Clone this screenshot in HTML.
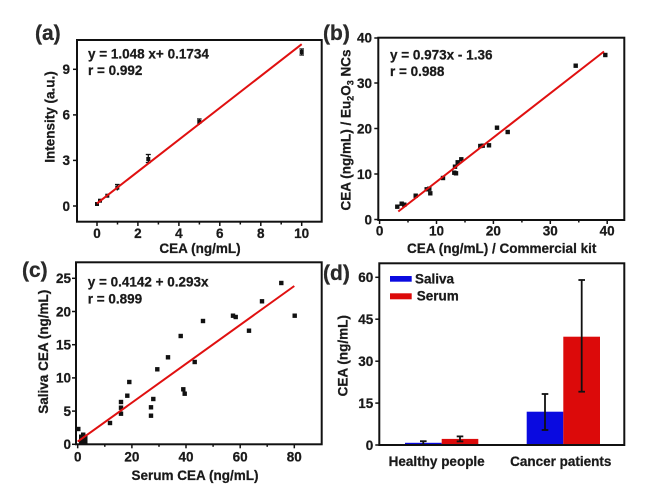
<!DOCTYPE html>
<html>
<head>
<meta charset="utf-8">
<style>
html,body{margin:0;padding:0;background:#fff;}
svg{display:block;}
svg text{font-weight:bold;font-family:"Liberation Sans",Arial,sans-serif;stroke:#1a1a1a;stroke-width:0.25px;}
</style>
</head>
<body>
<svg width="657" height="488" viewBox="0 0 657 488" xmlns="http://www.w3.org/2000/svg" font-family="Liberation Sans, Arial, sans-serif" font-weight="bold" font-size="13.5" fill="#1a1a1a">
<rect x="0" y="0" width="657" height="488" fill="#fff"/>

<!-- ================= Panel (a) ================= -->
<text x="35" y="40" font-size="21" fill="#2a2a2a">(a)</text>
<rect x="77" y="40" width="244.7" height="181.7" fill="none" stroke="#111" stroke-width="2"/>
<g stroke="#111" stroke-width="1.5">
  <line x1="97" y1="222" x2="97" y2="226"/>
  <line x1="137.9" y1="222" x2="137.9" y2="226"/>
  <line x1="178.9" y1="222" x2="178.9" y2="226"/>
  <line x1="219.8" y1="222" x2="219.8" y2="226"/>
  <line x1="260.8" y1="222" x2="260.8" y2="226"/>
  <line x1="301.7" y1="222" x2="301.7" y2="226"/>
  <line x1="117.5" y1="222" x2="117.5" y2="224.5"/>
  <line x1="158.4" y1="222" x2="158.4" y2="224.5"/>
  <line x1="199.4" y1="222" x2="199.4" y2="224.5"/>
  <line x1="240.3" y1="222" x2="240.3" y2="224.5"/>
  <line x1="281.2" y1="222" x2="281.2" y2="224.5"/>
  <line x1="77" y1="206" x2="73" y2="206"/>
  <line x1="77" y1="160.4" x2="73" y2="160.4"/>
  <line x1="77" y1="114.9" x2="73" y2="114.9"/>
  <line x1="77" y1="69.3" x2="73" y2="69.3"/>
</g>
<g text-anchor="middle">
  <text x="97" y="238">0</text>
  <text x="137.9" y="238">2</text>
  <text x="178.9" y="238">4</text>
  <text x="219.8" y="238">6</text>
  <text x="260.8" y="238">8</text>
  <text x="301.7" y="238">10</text>
</g>
<g text-anchor="end">
  <text x="70" y="210.8">0</text>
  <text x="70" y="165.2">3</text>
  <text x="70" y="119.7">6</text>
  <text x="70" y="74.1">9</text>
</g>
<text x="200" y="253" text-anchor="middle">CEA (ng/mL)</text>
<text transform="translate(54.5,117) rotate(-90)" text-anchor="middle">Intensity (a.u.)</text>
<text x="88" y="58.3">y = 1.048 x+ 0.1734</text>
<text x="88" y="75">r = 0.992</text>
<!-- points a -->
<g fill="#111" stroke="#111" stroke-width="1.3">
  <rect x="95" y="202" width="4" height="4" stroke="none"/>
  <rect x="98" y="198.7" width="4" height="4" stroke="none"/>
  <rect x="105.3" y="193.7" width="4" height="4" stroke="none"/>
  <rect x="115.3" y="185.7" width="4" height="4" stroke="none"/>
  <line x1="117.3" y1="184.5" x2="117.3" y2="190.5"/>
  <line x1="115" y1="184.5" x2="119.6" y2="184.5"/>
  <rect x="146.3" y="157" width="4" height="4" stroke="none"/>
  <line x1="148.3" y1="154.5" x2="148.3" y2="162.5"/>
  <line x1="145.8" y1="154.5" x2="150.8" y2="154.5"/>
  <line x1="145.8" y1="162.5" x2="150.8" y2="162.5"/>
  <rect x="197.3" y="120" width="4" height="4" stroke="none"/>
  <line x1="199.3" y1="119" x2="199.3" y2="125"/>
  <line x1="197" y1="119" x2="201.6" y2="119"/>
  <rect x="299.7" y="50" width="4" height="4" stroke="none"/>
  <line x1="301.7" y1="49" x2="301.7" y2="55"/>
  <line x1="299.4" y1="49" x2="304" y2="49"/>
  <line x1="299.4" y1="55" x2="304" y2="55"/>
</g>
<line x1="97" y1="203.4" x2="301.7" y2="44.2" stroke="#e01010" stroke-width="2"/>

<!-- ================= Panel (b) ================= -->
<text x="323" y="40" font-size="21" fill="#2a2a2a">(b)</text>
<rect x="378.3" y="37.7" width="246" height="182.3" fill="none" stroke="#111" stroke-width="2"/>
<g stroke="#111" stroke-width="1.5">
  <line x1="379.6" y1="220" x2="379.6" y2="224"/>
  <line x1="436.5" y1="220" x2="436.5" y2="224"/>
  <line x1="493.4" y1="220" x2="493.4" y2="224"/>
  <line x1="550.3" y1="220" x2="550.3" y2="224"/>
  <line x1="607.2" y1="220" x2="607.2" y2="224"/>
  <line x1="408" y1="220" x2="408" y2="222.5"/>
  <line x1="465" y1="220" x2="465" y2="222.5"/>
  <line x1="521.9" y1="220" x2="521.9" y2="222.5"/>
  <line x1="578.8" y1="220" x2="578.8" y2="222.5"/>
  <line x1="378.3" y1="219.5" x2="374.3" y2="219.5"/>
  <line x1="378.3" y1="174" x2="374.3" y2="174"/>
  <line x1="378.3" y1="128.5" x2="374.3" y2="128.5"/>
  <line x1="378.3" y1="83" x2="374.3" y2="83"/>
  <line x1="378.3" y1="38" x2="374.3" y2="38"/>
</g>
<g text-anchor="middle">
  <text x="379.6" y="235.7">0</text>
  <text x="436.5" y="235.7">10</text>
  <text x="493.4" y="235.7">20</text>
  <text x="550.3" y="235.7">30</text>
  <text x="607.2" y="235.7">40</text>
</g>
<g text-anchor="end">
  <text x="372" y="224.3">0</text>
  <text x="372" y="178.8">10</text>
  <text x="372" y="133.3">20</text>
  <text x="372" y="87.8">30</text>
  <text x="372" y="42.5">40</text>
</g>
<text x="501.7" y="253" text-anchor="middle">CEA (ng/mL) / Commercial kit</text>
<text transform="translate(350.5,130) rotate(-90)" text-anchor="middle">CEA (ng/mL) / Eu<tspan font-size="9" dy="3">2</tspan><tspan dy="-3">O</tspan><tspan font-size="9" dy="3">3</tspan><tspan dy="-3"> NCs</tspan></text>
<text x="390" y="59.3">y = 0.973x - 1.36</text>
<text x="390" y="76">r = 0.988</text>
<g fill="#111">
  <rect x="395.1" y="204.5" width="4.4" height="4.4"/>
  <rect x="399.5" y="201.5" width="4.4" height="4.4"/>
  <rect x="402.1" y="202.5" width="4.4" height="4.4"/>
  <rect x="413.5" y="193.5" width="4.4" height="4.4"/>
  <rect x="424.5" y="187.1" width="4.4" height="4.4"/>
  <rect x="427.1" y="186.5" width="4.4" height="4.4"/>
  <rect x="428.1" y="191.1" width="4.4" height="4.4"/>
  <rect x="440.8" y="175.8" width="4.4" height="4.4"/>
  <rect x="452.1" y="170.5" width="4.4" height="4.4"/>
  <rect x="453.8" y="171.1" width="4.4" height="4.4"/>
  <rect x="452.8" y="164.5" width="4.4" height="4.4"/>
  <rect x="455.5" y="160.1" width="4.4" height="4.4"/>
  <rect x="459.1" y="157.1" width="4.4" height="4.4"/>
  <rect x="478.1" y="143.8" width="4.4" height="4.4"/>
  <rect x="480.5" y="143.5" width="4.4" height="4.4"/>
  <rect x="486.8" y="143.1" width="4.4" height="4.4"/>
  <rect x="494.8" y="125.5" width="4.4" height="4.4"/>
  <rect x="505.5" y="129.8" width="4.4" height="4.4"/>
  <rect x="573.5" y="63.5" width="4.4" height="4.4"/>
  <rect x="603.1" y="52.8" width="4.4" height="4.4"/>
</g>
<line x1="398.3" y1="211.5" x2="604" y2="51.5" stroke="#e01010" stroke-width="2"/>

<!-- ================= Panel (c) ================= -->
<text x="22" y="277" font-size="21" fill="#2a2a2a">(c)</text>
<rect x="76" y="262.3" width="245.7" height="182" fill="none" stroke="#111" stroke-width="2"/>
<g stroke="#111" stroke-width="1.5">
  <line x1="77.7" y1="444.3" x2="77.7" y2="448.3"/>
  <line x1="131.9" y1="444.3" x2="131.9" y2="448.3"/>
  <line x1="186" y1="444.3" x2="186" y2="448.3"/>
  <line x1="240.2" y1="444.3" x2="240.2" y2="448.3"/>
  <line x1="294.3" y1="444.3" x2="294.3" y2="448.3"/>
  <line x1="104.8" y1="444.3" x2="104.8" y2="446.8"/>
  <line x1="159" y1="444.3" x2="159" y2="446.8"/>
  <line x1="213.1" y1="444.3" x2="213.1" y2="446.8"/>
  <line x1="267.2" y1="444.3" x2="267.2" y2="446.8"/>
  <line x1="76" y1="444.3" x2="72" y2="444.3"/>
  <line x1="76" y1="411.1" x2="72" y2="411.1"/>
  <line x1="76" y1="377.9" x2="72" y2="377.9"/>
  <line x1="76" y1="344.7" x2="72" y2="344.7"/>
  <line x1="76" y1="311.5" x2="72" y2="311.5"/>
  <line x1="76" y1="278.3" x2="72" y2="278.3"/>
</g>
<g text-anchor="middle">
  <text x="77.7" y="461.5">0</text>
  <text x="131.9" y="461.5">20</text>
  <text x="186" y="461.5">40</text>
  <text x="240.2" y="461.5">60</text>
  <text x="294.3" y="461.5">80</text>
</g>
<g text-anchor="end">
  <text x="71" y="449.1">0</text>
  <text x="71" y="415.9">5</text>
  <text x="71" y="382.7">10</text>
  <text x="71" y="349.5">15</text>
  <text x="71" y="316.3">20</text>
  <text x="71" y="283.1">25</text>
</g>
<text x="195" y="480" text-anchor="middle">Serum CEA (ng/mL)</text>
<text transform="translate(48,351.7) rotate(-90)" text-anchor="middle">Saliva CEA (ng/mL)</text>
<text x="87.7" y="286.7">y = 0.4142 + 0.293x</text>
<text x="87.7" y="303.3">r = 0.899</text>
<g fill="#111">
  <rect x="79" y="434.5" width="8.5" height="9"/>
  <rect x="81" y="432.5" width="4.4" height="4.4"/>
  <rect x="76.1" y="426.8" width="4.4" height="4.4"/>
  <rect x="107.8" y="420.8" width="4.4" height="4.4"/>
  <rect x="118.8" y="399.8" width="4.4" height="4.4"/>
  <rect x="118.8" y="405.5" width="4.4" height="4.4"/>
  <rect x="118.8" y="411.5" width="4.4" height="4.4"/>
  <rect x="125.1" y="393.5" width="4.4" height="4.4"/>
  <rect x="127.1" y="379.8" width="4.4" height="4.4"/>
  <rect x="148.8" y="413.5" width="4.4" height="4.4"/>
  <rect x="148.8" y="405.1" width="4.4" height="4.4"/>
  <rect x="151.1" y="396.8" width="4.4" height="4.4"/>
  <rect x="155.1" y="367.1" width="4.4" height="4.4"/>
  <rect x="165.8" y="355.1" width="4.4" height="4.4"/>
  <rect x="178.5" y="333.8" width="4.4" height="4.4"/>
  <rect x="181.1" y="387.1" width="4.4" height="4.4"/>
  <rect x="182.5" y="391.5" width="4.4" height="4.4"/>
  <rect x="192.5" y="359.8" width="4.4" height="4.4"/>
  <rect x="200.8" y="318.8" width="4.4" height="4.4"/>
  <rect x="230.8" y="313.5" width="4.4" height="4.4"/>
  <rect x="233.5" y="314.8" width="4.4" height="4.4"/>
  <rect x="246.8" y="328.5" width="4.4" height="4.4"/>
  <rect x="259.8" y="299.1" width="4.4" height="4.4"/>
  <rect x="279.1" y="280.8" width="4.4" height="4.4"/>
  <rect x="292.5" y="313.5" width="4.4" height="4.4"/>
</g>
<line x1="77.7" y1="441.6" x2="294.3" y2="286" stroke="#e01010" stroke-width="2"/>

<!-- ================= Panel (d) ================= -->
<text x="323" y="280" font-size="21" fill="#2a2a2a">(d)</text>
<!-- bars -->
<rect x="405" y="442.8" width="36.7" height="2.2" fill="#0a0ae0"/>
<rect x="441.7" y="438.9" width="36.6" height="6.1" fill="#dc0a0a"/>
<rect x="526.7" y="411.7" width="36.6" height="33.3" fill="#0a0ae0"/>
<rect x="563.3" y="336.7" width="36.7" height="108.3" fill="#dc0a0a"/>
<g stroke="#111" stroke-width="1.8">
  <line x1="423.3" y1="441.2" x2="423.3" y2="444.2"/>
  <line x1="420" y1="441.2" x2="426.6" y2="441.2"/>
  <line x1="460" y1="436.4" x2="460" y2="441.4"/>
  <line x1="456.7" y1="436.4" x2="463.3" y2="436.4"/>
  <line x1="456.7" y1="441.4" x2="463.3" y2="441.4"/>
  <line x1="545" y1="394" x2="545" y2="430"/>
  <line x1="541.7" y1="394" x2="548.3" y2="394"/>
  <line x1="541.7" y1="430" x2="548.3" y2="430"/>
  <line x1="581.7" y1="280" x2="581.7" y2="391.7"/>
  <line x1="578.4" y1="280" x2="585" y2="280"/>
  <line x1="578.4" y1="391.7" x2="585" y2="391.7"/>
</g>
<rect x="379.3" y="263.3" width="245" height="181.7" fill="none" stroke="#111" stroke-width="2"/>
<g stroke="#111" stroke-width="1.5">
  <line x1="379.3" y1="445" x2="375.3" y2="445"/>
  <line x1="379.3" y1="403.1" x2="375.3" y2="403.1"/>
  <line x1="379.3" y1="361.2" x2="375.3" y2="361.2"/>
  <line x1="379.3" y1="319.2" x2="375.3" y2="319.2"/>
  <line x1="379.3" y1="277.3" x2="375.3" y2="277.3"/>
</g>
<g text-anchor="end">
  <text x="373.3" y="449.8">0</text>
  <text x="373.3" y="407.9">15</text>
  <text x="373.3" y="366">30</text>
  <text x="373.3" y="324">45</text>
  <text x="373.3" y="282.1">60</text>
</g>
<text x="436.7" y="466" text-anchor="middle">Healthy people</text>
<text x="560.8" y="466" text-anchor="middle">Cancer patients</text>
<text transform="translate(347.5,355.8) rotate(-90)" text-anchor="middle">CEA (ng/mL)</text>
<!-- legend -->
<rect x="390" y="276" width="21.7" height="5.7" fill="#0a0ae0"/>
<text x="415" y="283.3">Saliva</text>
<rect x="390" y="293.3" width="21.7" height="6" fill="#dc0a0a"/>
<text x="416.7" y="300.5">Serum</text>
</svg>
</body>
</html>
